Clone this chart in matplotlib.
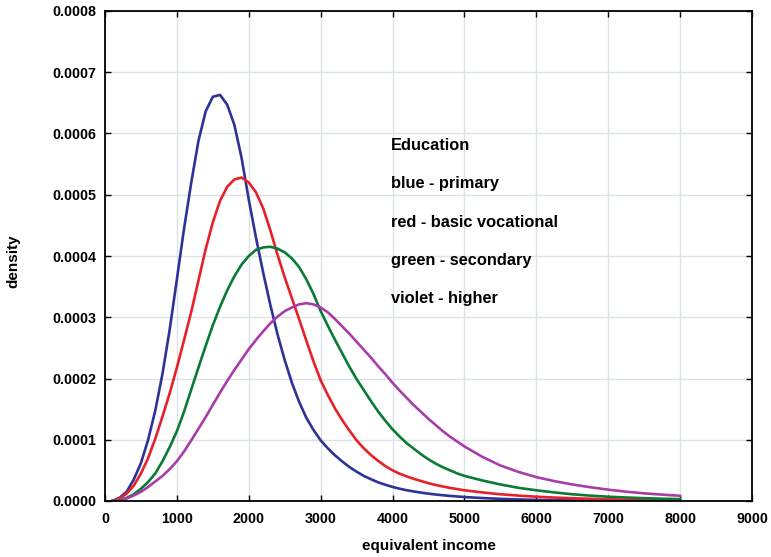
import matplotlib
matplotlib.use("Agg")
import matplotlib.pyplot as plt
import numpy as np

# income grid: every 100 up to 5000, then every 250 up to 8000
income = list(range(100, 5001, 100)) + list(range(5250, 8001, 250))

# density values (in units of 1e-4)
primary = [0.00, 0.05, 0.15, 0.35, 0.62, 1.00, 1.48, 2.08, 2.80, 3.62,
           4.45, 5.20, 5.88, 6.36, 6.60, 6.63, 6.47, 6.14, 5.60, 4.92,
           4.30, 3.73, 3.20, 2.72, 2.30, 1.93, 1.62, 1.36, 1.16, 0.99,
           0.86, 0.745, 0.645, 0.555, 0.478, 0.41, 0.355, 0.305, 0.265, 0.23,
           0.20, 0.175, 0.155, 0.136, 0.12, 0.106, 0.094, 0.083, 0.074, 0.065,
           0.048, 0.035, 0.025, 0.018, 0.013, 0.010, 0.008, 0.006, 0.005, 0.004,
           0.003, 0.002]

vocational = [0.00, 0.04, 0.12, 0.25, 0.45, 0.70, 1.02, 1.38, 1.76, 2.18,
              2.63, 3.09, 3.60, 4.11, 4.55, 4.90, 5.13, 5.25, 5.28, 5.20,
              5.04, 4.78, 4.42, 4.02, 3.65, 3.31, 2.97, 2.62, 2.28, 1.97,
              1.73, 1.51, 1.32, 1.15, 0.99, 0.86, 0.75, 0.655, 0.57, 0.50,
              0.445, 0.40, 0.36, 0.325, 0.29, 0.262, 0.237, 0.214, 0.194, 0.175,
              0.14, 0.11, 0.088, 0.07, 0.056, 0.045, 0.036, 0.028, 0.022, 0.018,
              0.015, 0.012]

secondary = [0.00, 0.015, 0.05, 0.11, 0.20, 0.31, 0.45, 0.65, 0.88, 1.14,
             1.46, 1.82, 2.18, 2.53, 2.87, 3.17, 3.44, 3.67, 3.86, 4.00,
             4.10, 4.14, 4.15, 4.12, 4.06, 3.96, 3.82, 3.62, 3.38, 3.10,
             2.86, 2.63, 2.41, 2.19, 1.99, 1.81, 1.63, 1.46, 1.31, 1.17,
             1.05, 0.94, 0.85, 0.76, 0.68, 0.61, 0.55, 0.50, 0.45, 0.41,
             0.335, 0.27, 0.215, 0.175, 0.14, 0.11, 0.088, 0.07, 0.057, 0.046,
             0.037, 0.03]

higher = [0.00, 0.01, 0.04, 0.09, 0.15, 0.23, 0.32, 0.41, 0.52, 0.65,
          0.81, 0.99, 1.18, 1.37, 1.57, 1.77, 1.96, 2.14, 2.31, 2.48,
          2.63, 2.77, 2.90, 3.01, 3.10, 3.16, 3.21, 3.23, 3.21, 3.16,
          3.08, 2.97, 2.85, 2.73, 2.60, 2.47, 2.34, 2.20, 2.07, 1.93,
          1.80, 1.68, 1.56, 1.45, 1.34, 1.24, 1.14, 1.05, 0.97, 0.89,
          0.72, 0.58, 0.475, 0.39, 0.325, 0.27, 0.225, 0.185, 0.152, 0.125,
          0.104, 0.085]

notes = ["Education", "blue - primary", "red - basic vocational",
         "green - secondary", "violet - higher"]

plt.rcParams['font.family'] = ['Liberation Sans', 'DejaVu Sans']
plt.rcParams['font.weight'] = 'bold'

fig = plt.figure(figsize=(7.71, 5.57), dpi=100)
ax = fig.add_axes([105/771, 56/557, 647/771, 490/557])

scale = 1e-4
ax.plot(income, np.array(primary)*scale, color='#2d3296', lw=1.9)
ax.plot(income, np.array(vocational)*scale, color='#e8202a', lw=1.9)
ax.plot(income, np.array(secondary)*scale, color='#0a7a35', lw=1.9)
ax.plot(income, np.array(higher)*scale, color='#aa3caa', lw=1.9)

ax.set_xlim(0, 9000)
ax.set_ylim(0, 0.0008)
ax.set_xticks(np.arange(0, 9001, 1000))
ax.set_yticks(np.arange(0, 0.00081, 0.0001))
ax.set_yticklabels(["%.4f" % v for v in np.arange(0, 0.00081, 0.0001)])
ax.grid(True, color='#dce3e6', lw=1)
ax.set_axisbelow(True)
ax.tick_params(direction='in', length=4, width=1, top=True, right=True,
               labelsize=10.3)
ax.tick_params(axis='x', pad=8)
ax.tick_params(axis='y', pad=6)
for s in ax.spines.values():
    s.set_linewidth(1.3)

ax.set_xlabel('equivalent income', fontsize=11, fontweight='bold')
ax.set_ylabel('density', fontsize=11, fontweight='bold')
ax.xaxis.label.set_va('center')
ax.yaxis.label.set_va('center')
ax.xaxis.set_label_coords(0.5, -0.092)
ax.yaxis.set_label_coords(-0.141, 0.49)

# text block at the right of the peaks
for i, t in enumerate(notes):
    ax.text(3980, 0.000580 - i*0.0000623, t, fontsize=11.8, fontweight='bold',
            va='center', ha='left')

plt.savefig('out.png', dpi=100)
